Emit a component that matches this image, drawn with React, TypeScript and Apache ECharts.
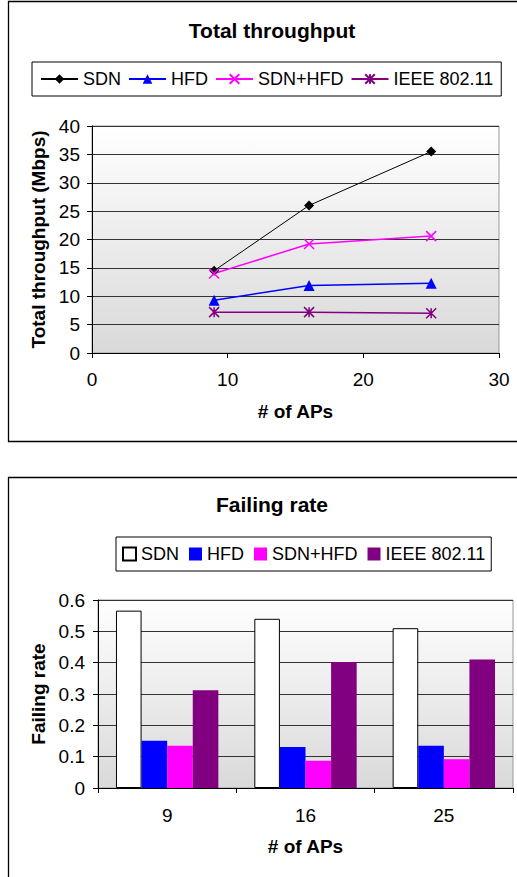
import React, { useEffect, useRef } from 'react';
import * as echarts from 'echarts';

const FONT = "'Liberation Sans', Arial, sans-serif";

// Top chart: total throughput vs number of APs
const apCounts = [9, 16, 25];
const throughputSDN = [14.5, 26.0, 35.5];
const throughputHFD = [9.3, 11.9, 12.3];
const throughputSDNHFD = [14.0, 19.2, 20.6];
const throughputIEEE = [7.2, 7.2, 7.0];

// Bottom chart: failing rate per AP count
const apCategories = ['9', '16', '25'];
const failSDN = [0.566, 0.54, 0.51];
const failHFD = [0.151, 0.131, 0.135];
const failSDNHFD = [0.135, 0.087, 0.092];
const failIEEE = [0.312, 0.402, 0.41];

const seriesNames = ['SDN', 'HFD', 'SDN+HFD', 'IEEE 802.11'];
const seriesColors = ['#000000', '#0000ff', '#ff00ff', '#800080'];

const X_SYMBOL = 'path://M0,0L10,10M10,0L0,10';
const STAR_SYMBOL = 'path://M0,0L10,10M10,0L0,10M5,0L5,10';

const plotBg = () =>
  new echarts.graphic.LinearGradient(0, 0, 0, 1, [
    { offset: 0, color: '#ffffff' },
    { offset: 1, color: '#d9d9d9' },
  ]);

const legendText = { color: '#000', fontSize: 18, fontFamily: FONT };
const axisText = { color: '#000', fontSize: 19, fontFamily: FONT };
const boldText = { color: '#000', fontSize: 19, fontFamily: FONT, fontWeight: 'bold' as const };

function topOption(): any {
  const lineData = [throughputSDN, throughputHFD, throughputSDNHFD, throughputIEEE];
  const symbols = ['diamond', 'triangle', X_SYMBOL, STAR_SYMBOL];
  const sizes = [10, 11, 10, 10];
  const widths = [1, 1.5, 1.5, 1.5];
  return {
    animation: false,
    graphic: [
      {
        type: 'rect',
        shape: { x: 8.5, y: 1.5, width: 620, height: 440 },
        style: { fill: 'none', stroke: '#000', lineWidth: 1.3 },
        z: 100,
      },
    ],
    title: {
      text: 'Total throughput',
      left: 267,
      textAlign: 'center',
      top: 15,
      textStyle: { color: '#000', fontSize: 21, fontWeight: 'bold', fontFamily: FONT },
    },
    legend: {
      left: 32,
      top: 62,
      orient: 'horizontal',
      padding: [8, 8],
      itemGap: 7,
      itemWidth: 37,
      itemHeight: 12,
      borderColor: '#000',
      borderWidth: 1,
      textStyle: legendText,
      data: seriesNames,
    },
    grid: {
      left: 92,
      top: 126,
      width: 407,
      height: 227,
      show: true,
      backgroundColor: plotBg(),
      borderColor: '#999',
      borderWidth: 1,
    },
    xAxis: {
      type: 'value',
      min: 0,
      max: 30,
      interval: 10,
      name: '# of APs',
      nameLocation: 'middle',
      nameGap: 49,
      nameTextStyle: boldText,
      axisLine: { show: true, lineStyle: { color: '#000', width: 1 } },
      axisTick: { show: true, length: 5, lineStyle: { color: '#000' } },
      axisLabel: { ...axisText, margin: 17 },
      splitLine: { show: false },
    },
    yAxis: {
      type: 'value',
      min: 0,
      max: 40,
      interval: 5,
      name: 'Total throughput (Mbps)',
      nameLocation: 'middle',
      nameGap: 44,
      nameTextStyle: boldText,
      axisLine: { show: true, lineStyle: { color: '#000', width: 1 } },
      axisTick: { show: true, length: 5, lineStyle: { color: '#000' } },
      axisLabel: { ...axisText, margin: 12 },
      splitLine: { show: true, lineStyle: { color: '#333', width: 1 } },
    },
    series: seriesNames.map((name, k) => ({
      type: 'line',
      name,
      data: apCounts.map((x, i) => [x, lineData[k][i]]),
      symbol: symbols[k],
      symbolSize: sizes[k],
      lineStyle: { color: seriesColors[k], width: widths[k] },
      itemStyle: {
        color: seriesColors[k],
        borderColor: seriesColors[k],
        borderWidth: k >= 2 ? 1.5 : 0,
      },
    })),
  };
}

function bottomOption(): any {
  const barData = [failSDN, failHFD, failSDNHFD, failIEEE];
  const fills = ['#ffffff', '#0000ff', '#ff00ff', '#800080'];
  return {
    animation: false,
    graphic: [
      {
        type: 'rect',
        shape: { x: 8.5, y: 477.5, width: 620, height: 500 },
        style: { fill: 'none', stroke: '#000', lineWidth: 1.3 },
        z: 100,
      },
    ],
    title: {
      text: 'Failing rate',
      left: 267,
      textAlign: 'center',
      top: 489,
      textStyle: { color: '#000', fontSize: 21, fontWeight: 'bold', fontFamily: FONT },
    },
    legend: {
      left: 116,
      top: 537,
      orient: 'horizontal',
      padding: [8, 6],
      itemGap: 10,
      itemWidth: 13,
      itemHeight: 13,
      icon: 'rect',
      borderColor: '#000',
      borderWidth: 1,
      textStyle: legendText,
      data: seriesNames,
    },
    grid: {
      left: 98,
      top: 600,
      width: 415,
      height: 188,
      show: true,
      backgroundColor: plotBg(),
      borderColor: '#999',
      borderWidth: 1,
    },
    xAxis: {
      type: 'category',
      data: apCategories,
      name: '# of APs',
      nameLocation: 'middle',
      nameGap: 49,
      nameTextStyle: boldText,
      axisLine: { show: true, lineStyle: { color: '#000', width: 1 } },
      axisTick: { show: true, length: 5, lineStyle: { color: '#000' } },
      axisLabel: { ...axisText, margin: 18 },
      splitLine: { show: false },
    },
    yAxis: {
      type: 'value',
      min: 0,
      max: 0.6,
      interval: 0.1,
      name: 'Failing rate',
      nameLocation: 'middle',
      nameGap: 50,
      nameTextStyle: boldText,
      axisLine: { show: true, lineStyle: { color: '#000', width: 1 } },
      axisTick: { show: true, length: 5, lineStyle: { color: '#000' } },
      axisLabel: { ...axisText, margin: 13 },
      splitLine: { show: true, lineStyle: { color: '#333', width: 1 } },
    },
    series: seriesNames.map((name, k) => ({
      type: 'bar',
      name,
      data: barData[k],
      barGap: '0%',
      barCategoryGap: '26%',
      itemStyle: {
        color: fills[k],
        borderColor: k === 0 ? '#000' : fills[k],
        borderWidth: k === 0 ? 1 : 0,
      },
    })),
  };
}

export default function App() {
  const topRef = useRef<HTMLDivElement>(null);
  const botRef = useRef<HTMLDivElement>(null);
  useEffect(() => {
    const a = echarts.init(topRef.current!, null, { renderer: 'svg' });
    a.setOption(topOption());
    const b = echarts.init(botRef.current!, null, { renderer: 'svg' });
    b.setOption(bottomOption());
    return () => {
      a.dispose();
      b.dispose();
    };
  }, []);
  const box: React.CSSProperties = {
    position: 'absolute',
    left: 0,
    top: 0,
    width: 517,
    height: 877,
  };
  return (
    <div style={{ position: 'absolute', left: 0, top: 0, width: 517, height: 877, overflow: 'hidden', background: '#fff' }}>
      <div ref={topRef} style={box} />
      <div ref={botRef} style={{ ...box, pointerEvents: 'none' }} />
    </div>
  );
}
